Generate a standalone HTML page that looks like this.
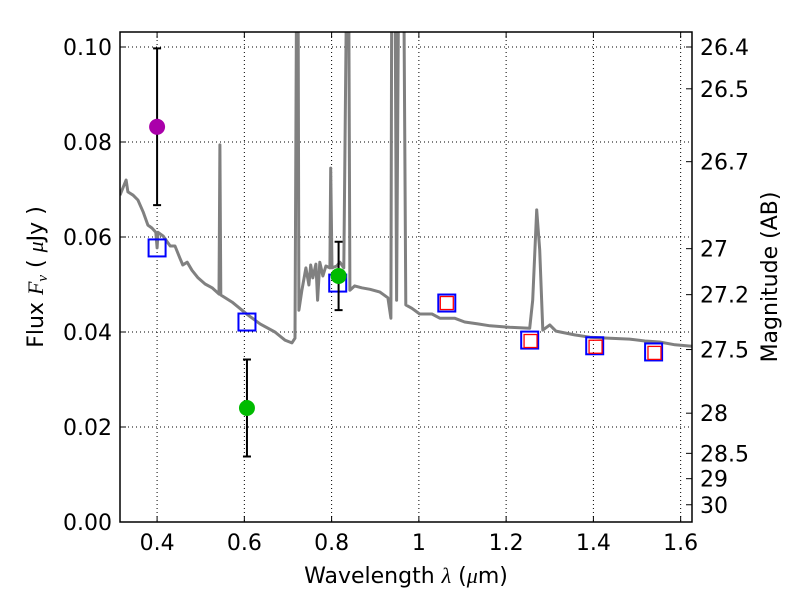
<!DOCTYPE html>
<html><head><meta charset="utf-8"><style>
body{margin:0;background:#fff;}
svg{display:block;font-family:"DejaVu Sans","Liberation Sans",sans-serif;}
</style></head><body>
<svg id="chart" width="800" height="600" viewBox="0 0 800 600">
<rect width="800" height="600" fill="#fff"/>
<g id="grid"></g>
<g id="spec"></g>
<g id="marks"></g>
<g id="axes"></g>
<text x="406" y="583" font-size="22" text-anchor="middle">Wavelength  <tspan font-family="Liberation Serif" font-style="italic">λ</tspan> (<tspan font-family="Liberation Serif" font-style="italic">μ</tspan>m)</text>
<text transform="translate(43,277) rotate(-90)" font-size="22" text-anchor="middle">Flux  <tspan font-family="Liberation Serif" font-style="italic">F<tspan font-size="15" dy="4">ν</tspan></tspan><tspan dy="-4">  ( </tspan><tspan font-family="Liberation Serif" font-style="italic">μ</tspan>Jy )</text>
<text transform="translate(777,277) rotate(-90)" font-size="22" text-anchor="middle">Magnitude (AB)</text>
</svg>
<script>
const specWl=[0.315,0.329,0.333,0.345,0.356,0.368,0.379,0.388,0.397,0.400,0.402,0.414,0.430,0.441,0.452,0.459,0.469,0.480,0.494,0.510,0.526,0.542,0.544,0.546,0.572,0.608,0.636,0.670,0.693,0.709,0.716,0.720,0.723,0.725,0.732,0.741,0.748,0.752,0.757,0.764,0.768,0.773,0.780,0.787,0.796,0.798,0.801,0.812,0.819,0.828,0.835,0.839,0.842,0.853,0.869,0.888,0.911,0.929,0.936,0.938,0.945,0.949,0.954,0.965,0.970,0.984,1.002,1.030,1.048,1.082,1.105,1.135,1.163,1.208,1.254,1.261,1.270,1.277,1.284,1.300,1.314,1.357,1.392,1.438,1.483,1.518,1.552,1.587,1.626];
const specFlux=[0.0688,0.0720,0.0695,0.0688,0.0678,0.0653,0.0625,0.0619,0.0610,0.0577,0.0610,0.0602,0.0581,0.0581,0.0556,0.0541,0.0547,0.0530,0.0514,0.0501,0.0493,0.0480,0.0794,0.0478,0.0463,0.0436,0.0417,0.0400,0.0383,0.0377,0.0387,0.12,0.12,0.0446,0.0488,0.0535,0.0499,0.0541,0.0514,0.0543,0.0467,0.0547,0.0518,0.0539,0.0535,0.0745,0.0535,0.0539,0.0547,0.0535,0.12,0.12,0.0488,0.0497,0.0493,0.0490,0.0484,0.0472,0.0429,0.12,0.12,0.0467,0.12,0.12,0.0457,0.0450,0.0438,0.0438,0.0429,0.0429,0.0421,0.0417,0.0413,0.0410,0.0408,0.0467,0.0657,0.0573,0.0404,0.0415,0.0402,0.0394,0.0389,0.0387,0.0385,0.0381,0.0379,0.0373,0.0370];
const obsWl=[0.400,0.606,0.816];
const obsFlux=[0.0832,0.0240,0.0518];
const obsErr=[0.0165,0.0102,0.0072];
const obsColor=["#aa00aa","#00bb00","#00bb00"];
const modWl=[0.400,0.606,0.814,1.064,1.254,1.403,1.538];
const modFlux=[0.0577,0.0421,0.0503,0.0461,0.0383,0.0371,0.0358];
const redWl=[1.064,1.256,1.405,1.540];
const redFlux=[0.0461,0.0381,0.0369,0.0356];
const xTicks=[0.4,0.6,0.8,1.0,1.2,1.4,1.6];
const xLabels=["0.4","0.6","0.8","1","1.2","1.4","1.6"];
const yTicks=[0,0.02,0.04,0.06,0.08,0.10];
const yLabels=["0.00","0.02","0.04","0.06","0.08","0.10"];
const magTicks=[26.4,26.5,26.7,27,27.2,27.5,28,28.5,29,30];

const L=120,R=692,T=32,B=522;
const xmin=0.315,xmax=1.626,ymin=0,ymax=0.10316;
const X=v=>L+(v-xmin)/(xmax-xmin)*(R-L);
const Y=v=>B-(v-ymin)/(ymax-ymin)*(B-T);
const NS="http://www.w3.org/2000/svg";
function mk(tag,attrs,parent){const e=document.createElementNS(NS,tag);for(const k in attrs)e.setAttribute(k,attrs[k]);parent.appendChild(e);return e;}
const grid=document.getElementById('grid'),spec=document.getElementById('spec'),marks=document.getElementById('marks'),axes=document.getElementById('axes');

const defs=mk('defs',{},document.getElementById('chart'));
const cp=mk('clipPath',{id:'clip'},defs);mk('rect',{x:L,y:T,width:R-L,height:B-T},cp);
spec.setAttribute('clip-path','url(#clip)');

xTicks.forEach((t,i)=>{const x=X(t);
 const g=mk('line',{x1:x,x2:x,y1:T,y2:B,stroke:'#000','stroke-width':1,'stroke-dasharray':'1,3'},grid);
 
 mk('line',{x1:x,x2:x,y1:B,y2:B-6,stroke:'#000'},axes);
 mk('line',{x1:x,x2:x,y1:T,y2:T+6,stroke:'#000'},axes);
 const tx=mk('text',{x:x,y:B+28,'font-size':22,'text-anchor':'middle'},axes);tx.textContent=xLabels[i];
 
});
yTicks.forEach((t,i)=>{const y=Y(t);
 const g=mk('line',{x1:L,x2:R,y1:y,y2:y,stroke:'#000','stroke-width':1,'stroke-dasharray':'1,3'},grid);
 
 mk('line',{x1:L,x2:L+6,y1:y,y2:y,stroke:'#000'},axes);
 const tx=mk('text',{x:L-8,y:y+8,'font-size':22,'text-anchor':'end'},axes);tx.textContent=yLabels[i];
 
});
magTicks.forEach(m=>{const f=Math.pow(10,-0.4*(m-23.9));const y=Y(f);
 mk('line',{x1:R,x2:R-6,y1:y,y2:y,stroke:'#000'},axes);
 const tx=mk('text',{x:R+8,y:y+8,'font-size':22},axes);tx.textContent=String(m);
 
});
mk('rect',{x:L,y:T,width:R-L,height:B-T,fill:'none',stroke:'#000','stroke-width':1.5},axes);

const p=specWl.map((w,i)=>X(w).toFixed(1)+','+Y(specFlux[i]).toFixed(1)).join(' ');
const pl=mk('polyline',{points:p,fill:'none',stroke:'#808080','stroke-width':3,'stroke-linejoin':'round'},spec);


modWl.forEach((w,i)=>{const x=X(w),y=Y(modFlux[i]);
 const r=mk('rect',{x:x-8.5,y:y-8.5,width:17,height:17,fill:'none',stroke:'#0000ff','stroke-width':2},marks);
 
});
redWl.forEach((w,i)=>{const x=X(w),y=Y(redFlux[i]);
 const r=mk('rect',{x:x-6.5,y:y-6.5,width:13,height:13,fill:'none',stroke:'#ff0000','stroke-width':1.3},marks);
 
});
obsWl.forEach((w,i)=>{const x=X(w),y=Y(obsFlux[i]),y1=Y(obsFlux[i]+obsErr[i]),y2=Y(obsFlux[i]-obsErr[i]);
 const e=mk('path',{d:`M${x},${y1}V${y2}M${x-4},${y1}H${x+4}M${x-4},${y2}H${x+4}`,stroke:'#000','stroke-width':2,fill:'none'},marks);
 
 const c=mk('circle',{cx:x,cy:y,r:8,fill:obsColor[i]},marks);
 
});
</script>
</body></html>
